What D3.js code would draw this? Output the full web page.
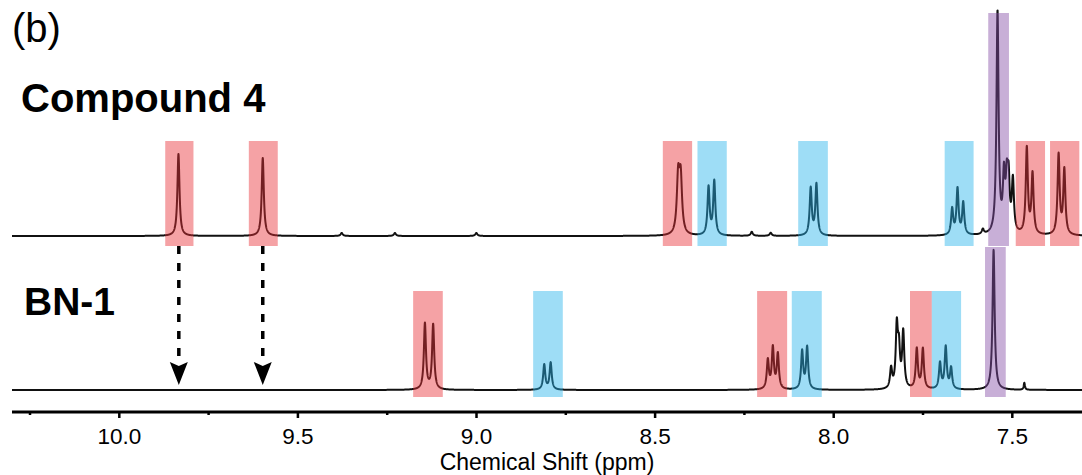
<!DOCTYPE html>
<html>
<head>
<meta charset="utf-8">
<script src="https://cdn.jsdelivr.net/npm/d3@7"></script>
<style>
  body { margin: 0; background: #fff; }
  text { font-family: "Liberation Sans", Arial, sans-serif; }
</style>
</head>
<body>
<script>
// peaks: [ppm, height (a.u.), half width (ppm, optional)]
let Compound4Peaks = [
    [9.833, 82], [9.597, 78],
    [9.376, 3], [9.227, 3], [8.999, 3],
    [8.434, 56, 0.0045], [8.427, 54, 0.0045],
    [8.349, 48], [8.333, 54],
    [8.228, 4], [8.175, 3],
    [8.063, 47], [8.047, 51],
    [7.667, 26], [7.652, 46], [7.636, 32],
    [7.581, 5],
    [7.540, 222],
    [7.522, 54], [7.514, 46], [7.509, 48], [7.497, 52],
    [7.458, 86], [7.442, 60],
    [7.369, 80], [7.353, 65]
];

let BN1Peaks = [
    [9.143, 66], [9.120, 65],
    [8.809, 25], [8.791, 27],
    [8.183, 29], [8.169, 41], [8.155, 35],
    [8.087, 38], [8.073, 42],
    [7.838, 20], [7.822, 60], [7.816, 36], [7.804, 56],
    [7.766, 40], [7.749, 40],
    [7.701, 26], [7.685, 42], [7.670, 21],
    [7.551, 140],
    [7.465, 7, 0.002]
];

// highlighted regions: [from ppm, to ppm, group]
let Compound4Boxes = [
    [9.870, 9.791, "red"], [9.636, 9.555, "red"],
    [8.477, 8.395, "red"], [8.380, 8.298, "blue"],
    [8.098, 8.015, "blue"], [7.688, 7.607, "blue"],
    [7.566, 7.508, "purple"],
    [7.489, 7.407, "red"], [7.393, 7.311, "red"]
];

let BN1Boxes = [
    [9.176, 9.093, "red"], [8.840, 8.757, "blue"],
    [8.213, 8.129, "red"], [8.116, 8.032, "blue"],
    [7.785, 7.724, "red"], [7.724, 7.642, "blue"],
    [7.575, 7.517, "purple"]
];

let ArrowShifts = [9.832, 9.597];
let MajorTicks = [10.0, 9.5, 9.0, 8.5, 8.0, 7.5];
let MinorTicks = [10.25, 9.75, 9.25, 8.75, 8.25, 7.75];

let SvgWidth = 1082;
let SvgHeight = 475;

let Svg = d3.select("body")
    .append("svg")
    .attr("width", SvgWidth)
    .attr("height", SvgHeight)

let AxisY = 412;
let x = d3.scaleLinear().domain([10.299, 7.3035]).range([12, 1082]);

let yTop = d3.scaleLinear().domain([0, 100]).range([236, 136]);
let yBottom = d3.scaleLinear().domain([0, 100]).range([390, 290]);

let BoxColors = {
    red: "rgb(233,49,56)",
    blue: "rgb(40,180,235)",
    purple: "rgb(133,78,167)"
};

function spectrum(peaks) {
    let pts = [];
    for (let p = 10.299; p >= 7.30; p -= 0.0004) {
        let v = 0;
        peaks.forEach(function (pk) {
            let w = pk[2] || 0.0035;
            let d = (p - pk[0]) / w;
            v += pk[1] / (1 + d * d);
        });
        pts.push([p, v]);
    }
    return pts;
}

function drawSpectrum(peaks, yScale) {
    let line = d3.line()
        .x(d => x(d[0]))
        .y(d => yScale(d[1]));
    Svg.append("path")
        .datum(spectrum(peaks))
        .attr("d", line)
        .attr("fill", "none")
        .attr("stroke", "#111")
        .attr("stroke-width", 2)
        .attr("stroke-linejoin", "round");
}

drawSpectrum(Compound4Peaks, yTop);
drawSpectrum(BN1Peaks, yBottom);

// boxes go over the lines, semi transparent
function drawBoxes(boxes, top, bottom, purpleTop, purpleBottom) {
    Svg.append("g").selectAll("rect")
        .data(boxes)
        .enter()
        .append("rect")
        .attr("x", d => x(d[0]))
        .attr("width", d => x(d[1]) - x(d[0]))
        .attr("y", d => d[2] == "purple" ? purpleTop : top)
        .attr("height", d => d[2] == "purple" ? purpleBottom - purpleTop : bottom - top)
        .attr("fill", d => BoxColors[d[2]])
        .attr("fill-opacity", 0.45);
}

drawBoxes(Compound4Boxes, 141, 246, 13, 246);
drawBoxes(BN1Boxes, 291, 397, 247, 397);

// dashed arrows
let Arrows = Svg.append("g").selectAll("g")
    .data(ArrowShifts)
    .enter()
    .append("g");

Arrows.append("line")
    .attr("x1", d => x(d))
    .attr("x2", d => x(d))
    .attr("y1", 246)
    .attr("y2", 364)
    .attr("stroke", "#000")
    .attr("stroke-width", 3.5)
    .attr("stroke-dasharray", "8,9");

Arrows.append("path")
    .attr("d", d => {
        let cx = x(d);
        return `M${cx - 9},${362} L${cx},${366} L${cx + 9},${362} L${cx},${385} Z`;
    })
    .attr("fill", "#000");

// axis
let BottomAxis = d3.axisBottom(x)
    .tickValues(MajorTicks)
    .tickFormat(d3.format(".1f"))
    .tickSize(6)
    .tickPadding(10);

let AxisGroup = Svg.append("g")
    .attr("transform", `translate(0,${AxisY})`)
    .call(BottomAxis);

AxisGroup.select(".domain").remove();
AxisGroup.selectAll(".tick line").attr("stroke-width", 2.5).attr("stroke", "#000");
AxisGroup.selectAll(".tick text")
    .attr("font-size", 22.5)
    .attr("font-family", "Liberation Sans, Arial, sans-serif")
    .attr("fill", "#000");

Svg.append("g")
    .attr("transform", `translate(0,${AxisY})`)
    .call(d3.axisBottom(x).tickValues(MinorTicks).tickSize(3).tickFormat(""))
    .call(g => g.select(".domain").remove())
    .selectAll(".tick line").attr("stroke-width", 2.5).attr("stroke", "#000");

Svg.append("line")
    .attr("x1", 12)
    .attr("x2", 1082)
    .attr("y1", AxisY)
    .attr("y2", AxisY)
    .attr("stroke", "#000")
    .attr("stroke-width", 2.8);

Svg.append("text")
    .attr("x", 547)
    .attr("y", 470)
    .attr("text-anchor", "middle")
    .attr("font-size", 23)
    .text("Chemical Shift (ppm)");

// labels
Svg.append("text")
    .attr("x", 12)
    .attr("y", 42)
    .attr("font-size", 40)
    .text("(b)");

Svg.append("text")
    .attr("x", 21)
    .attr("y", 112)
    .attr("font-size", 40)
    .attr("font-weight", "bold")
    .text("Compound 4");

Svg.append("text")
    .attr("x", 24)
    .attr("y", 315)
    .attr("font-size", 39)
    .attr("font-weight", "bold")
    .text("BN-1");
</script>
</body>
</html>
